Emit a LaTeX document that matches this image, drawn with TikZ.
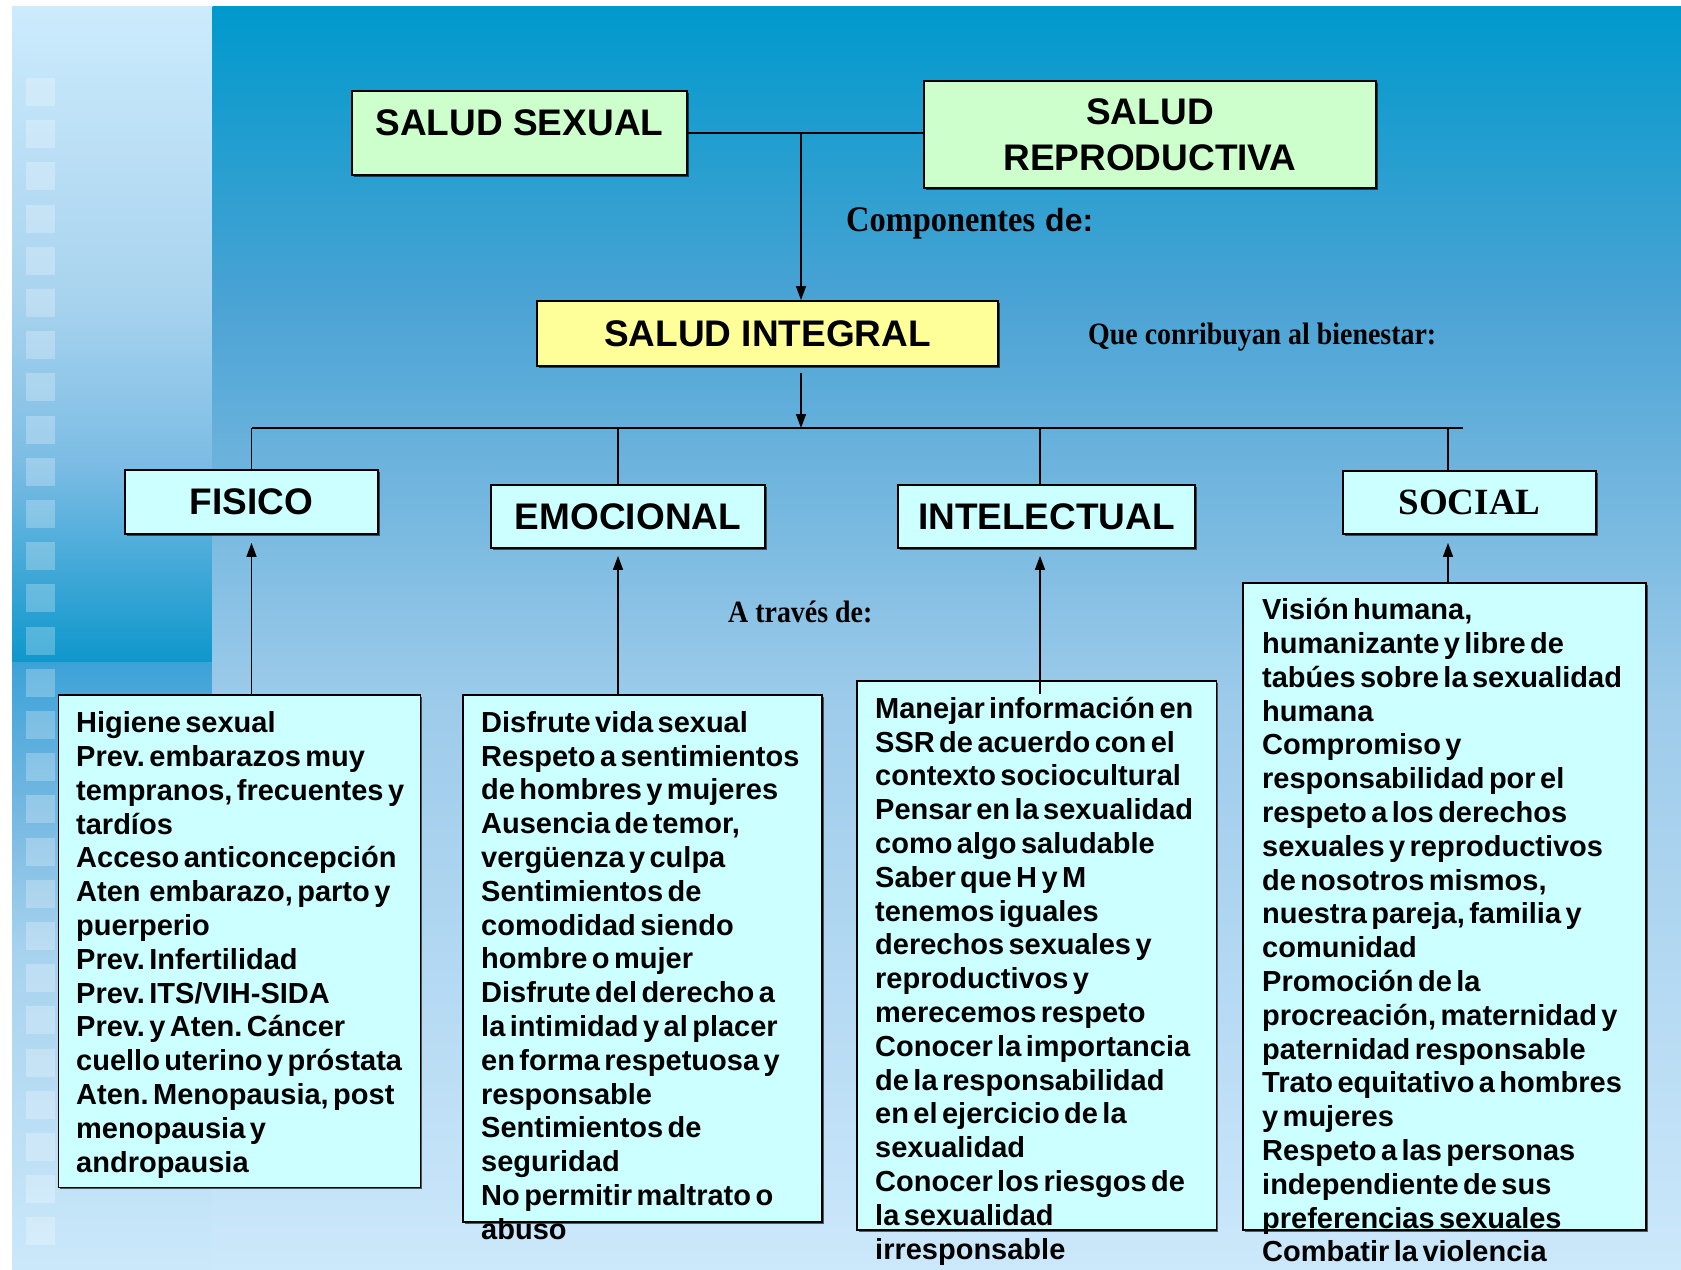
\documentclass[tikz,border=0pt]{standalone}
\usepackage{fontspec}
\setmainfont{Liberation Sans}
\newfontfamily\listfont[WordSpace=0.55]{Liberation Sans}
\newfontfamily\labfont[FakeStretch=0.9]{Liberation Serif}
\newfontfamily\socfont{Liberation Serif}
\usetikzlibrary{arrows.meta,calc,shadows}
\definecolor{boxcyan}{HTML}{CCFFFF}
\definecolor{boxgreen}{HTML}{CCFFCC}
\definecolor{boxyellow}{HTML}{FFFF99}
\definecolor{bgA}{HTML}{0099CC}
\definecolor{bgB}{HTML}{4AA3D4}
\definecolor{bgC}{HTML}{9DCBEA}
\definecolor{bgD}{HTML}{CCE8FB}
\definecolor{stA}{HTML}{CCEBFD}
\definecolor{stA2}{HTML}{A8D3EE}
\definecolor{stA3}{HTML}{7BBCE4}
\definecolor{stB}{HTML}{0E97CC}
\definecolor{stC}{HTML}{3DA2D8}
\definecolor{stD}{HTML}{7DBCE3}
\definecolor{stD2}{HTML}{A6D2EE}
\definecolor{stE}{HTML}{CBE8FA}
\setlength{\lineskiplimit}{-100pt}
\setlength{\lineskip}{0pt}
\begin{document}
\frenchspacing
\begin{tikzpicture}[x=1pt,y=-1pt,
  box/.style={draw=black, line width=1.8pt, inner sep=0pt,
    drop shadow={shadow xshift=1.5pt, shadow yshift=-1.5pt, opacity=0.6, fill=black}},
  hdr/.style={font=\bfseries\fontsize{37}{45.7}\selectfont, align=center},
  lst/.style={inner sep=0pt, anchor=north west, align=left,
    font=\listfont\bfseries\fontsize{29}{33.8}\selectfont},
  lab/.style={inner sep=0pt, anchor=base west, font=\labfont\bfseries\fontsize{31}{36}\selectfont},
  conn/.style={line width=1.5pt, draw=black},
  arr/.style={conn, -{Triangle[width=10pt,length=14pt]}}
]
\useasboundingbox (0,0) rectangle (1681,1269);
% background
\fill[white] (0,0) rectangle (1681,1269);
\shade[top color=stA, bottom color=stA2] (12,6) rectangle (213,301);
\shade[top color=stA2, bottom color=stA3] (12,300) rectangle (213,466);
\shade[top color=stA3, bottom color=stB] (12,465) rectangle (213,663);
\shade[top color=stC, bottom color=stD] (12,662) rectangle (213,834);
\shade[top color=stD, bottom color=stD2] (12,833) rectangle (213,948);
\shade[top color=stD2, bottom color=stE] (12,947) rectangle (213,1269);
\shade[top color=bgA, bottom color=bgB] (212.5,6) rectangle (1681,301);
\shade[top color=bgB, bottom color=bgC] (212.5,300) rectangle (1681,701);
\shade[top color=bgC, bottom color=bgD] (212.5,700) rectangle (1681,1269);
\foreach \k in {0,...,27}
  \fill[white,opacity=0.25] (26,{78+42.2*\k}) rectangle (55,{106+42.2*\k});

% boxes
\node[box, fill=boxgreen, minimum width=335pt, minimum height=84pt] (ss) at (519.5,133) {};
\node[hdr, inner sep=0pt, anchor=base] (sst) at (519.5,135) {SALUD SEXUAL};
\node[box, fill=boxgreen, hdr, minimum width=452pt, minimum height=107pt] (sr) at (1150,134.5) {SALUD\\REPRODUCTIVA};
\node[box, fill=boxyellow, hdr, minimum width=461pt, minimum height=65pt] (si) at (767.5,333.5) {SALUD INTEGRAL};
\node[box, fill=boxcyan, hdr, minimum width=253pt, minimum height=64pt] (fis) at (251.5,502) {FISICO};
\node[box, fill=boxcyan, hdr, minimum width=274pt, minimum height=63pt] (emo) at (628,516.5) {EMOCIONAL};
\node[box, fill=boxcyan, hdr, minimum width=297pt, minimum height=63pt] (intl) at (1046.5,516.5) {INTELECTUAL};
\node[box, fill=boxcyan, font=\socfont\bfseries\fontsize{37}{42}\selectfont, minimum width=253pt, minimum height=63pt] (soc) at (1469.5,502.5) {SOCIAL};

\node[box, fill=boxcyan, minimum width=362pt, minimum height=492.5pt] (fisC) at (239.5,941.25) {};
\node[box, fill=boxcyan, minimum width=359pt, minimum height=527pt] (emoC) at (642.5,958.5) {};
\node[box, fill=boxcyan, minimum width=359.5pt, minimum height=549pt] (intC) at (1036.75,955.5) {};
\node[box, fill=boxcyan, minimum width=403pt, minimum height=647pt] (socC) at (1444.5,906.5) {};

% connectors
\coordinate (j1) at (801,133);
\coordinate (busL) at (251.5,428);
\coordinate (b2) at (618,428);
\coordinate (b3) at (1040,428);
\coordinate (b4) at (1448,428);
\coordinate (busR) at (1463,428);
\draw[conn] (ss.east) -- (ss.east -| sr.west);
\draw[arr] (j1) -- (j1 |- si.north);
\draw[arr] ($(si.south -| j1)+(0,6)$) -- (j1 |- busL);
\draw[conn] (busL) -- (busR);
\draw[conn] (busL) -- (busL |- fis.north);
\draw[conn] (b2) -- (b2 |- emo.north);
\draw[conn] (b3) -- (b3 |- intl.north);
\draw[conn] (b4) -- (b4 |- soc.north);
\draw[arr] (busL |- fisC.north) -- ($(busL |- fis.south)+(0,8)$);
\draw[arr] (b2 |- emoC.north) -- ($(b2 |- emo.south)+(0,7)$);
\draw[arr] ($(b3 |- intC.north)+(0,14)$) -- ($(b3 |- intl.south)+(0,7)$);
\draw[arr] (b4 |- socC.north) -- ($(b4 |- soc.south)+(0,8)$);

% labels
\node[lab, font=\labfont\bfseries\fontsize{36}{40}\selectfont] (comp) at (846,231)
  {Componentes\hspace{10pt}{\normalfont\bfseries\fontsize{32}{36}\selectfont de:}};
\node[lab] (que) at (1088,344) {Que conribuyan al bienestar:};
\node[lab] (atr) at (728,622) {A través de:};

% content texts
\node[lst] (fisT) at (76,702.5) {\rule{0pt}{30pt}Higiene sexual\\
Prev. embarazos muy\\
tempranos, frecuentes y\\
tardíos\\
Acceso anticoncepción\\
Aten\ \ embarazo, parto y\\
puerperio\\
Prev. Infertilidad\\
Prev. ITS/VIH-SIDA\\
Prev. y Aten. Cáncer\\
cuello uterino y próstata\\
Aten. Menopausia, post\\
menopausia y\\
andropausia};

\node[lst] (emoT) at (481,702) {\rule{0pt}{30pt}Disfrute vida sexual\\
Respeto a sentimientos\\
de hombres y mujeres\\
Ausencia de temor,\\
vergüenza y culpa\\
Sentimientos de\\
comodidad siendo\\
hombre o mujer\\
Disfrute del derecho a\\
la intimidad y al placer\\
en forma respetuosa y\\
responsable\\
Sentimientos de\\
seguridad\\
No permitir maltrato o\\
abuso};

\node[lst] (intT) at (875,688) {\rule{0pt}{30pt}Manejar información en\\
SSR de acuerdo con el\\
contexto sociocultural\\
Pensar en la sexualidad\\
como algo saludable\\
Saber que H y M\\
tenemos iguales\\
derechos sexuales y\\
reproductivos y\\
merecemos respeto\\
Conocer la importancia\\
de la responsabilidad\\
en el ejercicio de la\\
sexualidad\\
Conocer los riesgos de\\
la sexualidad\\
irresponsable};

\node[lst] (socT) at (1262,589.5) {\rule{0pt}{30pt}Visión humana,\\
humanizante y libre de\\
tabúes sobre la sexualidad\\
humana\\
Compromiso y\\
responsabilidad por el\\
respeto a los derechos\\
sexuales y reproductivos\\
de nosotros mismos,\\
nuestra pareja, familia y\\
comunidad\\
Promoción de la\\
procreación, maternidad y\\
paternidad responsable\\
Trato equitativo a hombres\\
y mujeres\\
Respeto a las personas\\
independiente de sus\\
preferencias sexuales\\
Combatir la violencia};
\end{tikzpicture}
\end{document}
